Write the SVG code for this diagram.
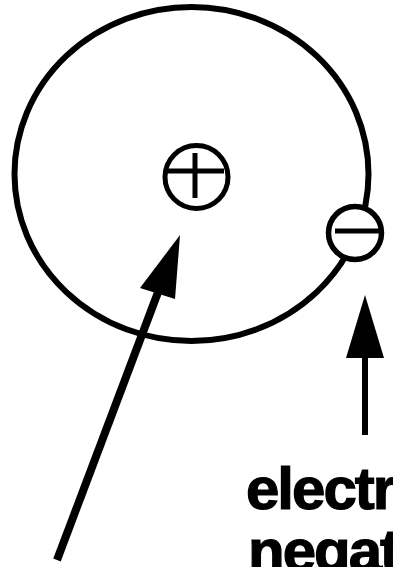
<svg xmlns="http://www.w3.org/2000/svg" width="393" height="567" viewBox="0 0 393 567">
<style>
.ln{fill:none;stroke:#000;stroke-linecap:butt}
.lbl{font-family:"Liberation Sans",Arial,sans-serif;font-weight:bold;font-size:60px;letter-spacing:-2px;fill:#000;stroke:#000;stroke-width:1.2px}
</style>
<rect width="393" height="567" fill="#fff"/>
<g id="orbit">
<ellipse class="ln" cx="191.5" cy="174" rx="177" ry="167" stroke-width="6"/>
</g>
<g id="nucleus">
<circle cx="196.5" cy="177" r="31.5" fill="#fff" stroke="#000" stroke-width="5"/>
<line class="ln" x1="167" y1="171" x2="224" y2="171" stroke-width="5"/>
<line class="ln" x1="195" y1="153" x2="195" y2="198" stroke-width="5"/>
</g>
<g id="electron">
<circle cx="355" cy="233" r="26.5" fill="#fff" stroke="#000" stroke-width="5.5"/>
<line class="ln" x1="335" y1="231" x2="381" y2="231" stroke-width="5"/>
</g>
<g id="connectors">
<line class="ln" x1="57" y1="560" x2="160" y2="287" stroke-width="8"/>
<polygon points="180,235 140,288 175,299" fill="#000"/>
<line class="ln" x1="365" y1="435" x2="365" y2="350" stroke-width="6"/>
<polygon points="365,295 346,358 384,358" fill="#000"/>
</g>
<g id="label">
<text class="lbl" x="246" y="509">electr</text>
<text class="lbl" x="248" y="571">negat</text>
</g>
</svg>
